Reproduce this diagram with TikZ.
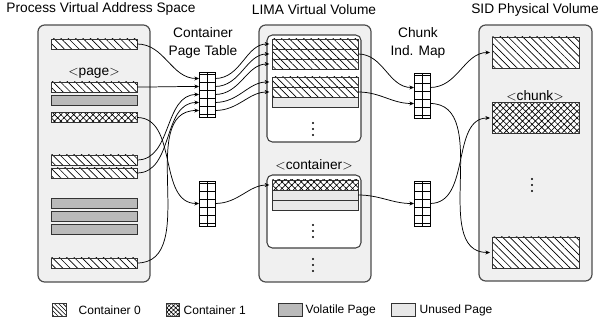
\documentclass[tikz,border=0pt]{standalone}
\usepackage{fontspec}
\setmainfont{Liberation Sans}
\usetikzlibrary{arrows.meta, patterns.meta, calc}

\tikzset{
  panel/.style={draw=black!70, fill=black!6, line width=0.9pt, rounded corners=5pt},
  box/.style={draw=black!75, fill=white, line width=0.8pt, rounded corners=4pt},
  bar/.style={draw=black!80, line width=0.6pt, minimum width=64.5pt, minimum height=7.5pt, inner sep=0pt, outer sep=0pt},
  cz/.style={bar, preaction={fill=white}, pattern={Lines[angle=-45,distance=3.9pt,line width=0.5pt]}},
  co/.style={bar, preaction={fill=white}, pattern={Hatch[angle=45,distance=3.4pt,line width=0.5pt]}},
  vol/.style={bar, fill=black!27},
  unused/.style={bar, fill=black!9},
  chunk/.style={minimum width=65.25pt, minimum height=23.25pt},
  key/.style={minimum width=10pt, minimum height=9.75pt},
  czkey/.style={bar, key, preaction={fill=white}, pattern={Lines[angle=-45,distance=2.3pt,line width=0.45pt]}},
  cokey/.style={bar, key, preaction={fill=white}, pattern={Hatch[angle=45,distance=2.3pt,line width=0.45pt]}},
  ptrow/.style={draw, line width=0.6pt, minimum width=12pt, minimum height=6pt, inner sep=0pt, outer sep=0pt,
    path picture={\draw[line width=0.6pt] (path picture bounding box.north) -- (path picture bounding box.south);}},
  ptcap/.style={ptrow, minimum height=1.875pt},
  map/.style={-{Stealth[length=3.5pt,width=3pt]}, line width=0.55pt},
}

\begin{document}
\begin{tikzpicture}[x=0.75pt, y=-0.75pt, font=\fontsize{10.3}{14}\selectfont]
    \useasboundingbox (0,0) rectangle (598,323);

    % TITLES
    \node (tproc) at (101,9) {Process Virtual Address Space};
    \node (tlima) at (314,10) {LIMA Virtual Volume};
    \node[anchor=west, inner sep=0pt] (tsid) at (471,10) {SID Physical Volume};
    \node[align=center] (tpt) at (203,43) {Container\\Page Table};
    \node[align=center] (tcm) at (418,43) {Chunk\\Ind. Map};

    % PANELS
    \draw[panel] (38,25) rectangle (150,282);
    \draw[panel] (259,25) rectangle (371,282);
    \draw[panel] (479,25) rectangle (592,281);
    \draw[box] (267,35) rectangle (361,142);
    \draw[box] (267,175) rectangle (361,248);

    % PAGES
    \node[cz] (p1) at (94,44) {};
    \node (lpage) at (94,73) {$<$page$>$};
    \node[cz] (p2) at (94,87) {};
    \node[vol] (p3) at (94,100) {};
    \node[co] (p4) at (94,117.5) {};
    \node[cz] (p5) at (94,160) {};
    \node[cz] (p6) at (94,173) {};
    \node[vol] (p7) at (94,203) {};
    \node[vol] (p8) at (94,216) {};
    \node[vol] (p9) at (94,229) {};
    \node[cz] (p10) at (94,263) {};

    % CONTAINERS
    \foreach \i/\y in {1/44, 2/54, 3/64, 4/82, 5/92}
        \node[cz] (l\i) at (315,\y) {};
    \node[unused] (l6) at (315,102) {};
    \node (lcont) at (314,165) {$<$container$>$};
    \node[co] (m1) at (315,185) {};
    \node[unused] (m2) at (315,195) {};
    \node[unused] (m3) at (315,205) {};

    % CHUNKS
    \node[cz, chunk] (s1) at (535.5,52.5) {};
    \node (lchunk) at (535,96) {$<$chunk$>$};
    \node[co, chunk] (s2) at (535.5,118) {};
    \node[cz, chunk] (s3) at (535.5,252.5) {};

    % ELLIPSES
    \foreach \x/\y in {313/123, 313/225, 313/259, 532/179}
        \foreach \d in {0,6,12}
            \fill (\x,\y+\d) circle (0.8pt);

    % TABLES
    \foreach \nm/\x/\y in {pta/207/0, ptb/207/109, cma/422/1, cmb/422/109} {
        \node[ptcap] (\nm0) at (\x,73.25+\y) {};
        \foreach \i in {1,...,5}
            \node[ptrow] (\nm\i) at (\x,{70.5+8*\i+\y}) {};
        \node[ptcap] (\nm6) at (\x,115.75+\y) {};
    }

    % PAGE -> TABLE
    \draw[map] (p1.east) to[out=0,in=180] (pta1.west);
    \draw[map] (p2.east) to[out=0,in=180] (pta2.west);
    \draw[map] (p5.east) to[out=0,in=180] (pta3.west);
    \draw[map] (p6.east) to[out=0,in=180] (pta4.west);
    \draw[map] (p10.east) to[out=0,in=180] (pta5.west);
    \draw[map] (p4.east) to[out=0,in=180] (ptb3.west);

    % TABLE -> CONTAINER
    \foreach \i in {1,...,5}
        \draw[map, shorten >=2pt] (pta\i.east) to[out=0,in=180] (l\i.west);
    \draw[map, shorten >=2pt] (ptb3.east) to[out=0,in=180] (m1.west);

    % CONTAINER -> CHUNK MAP
    \draw[map] (l2.east) to[out=0,in=180] (cma2.west);
    \draw[map] (l5.east) to[out=0,in=180] (cma4.west);
    \draw[map] (m2.east) to[out=0,in=180] (cmb3.west);

    % CHUNK MAP -> SID
    \draw[map, shorten >=1.5pt] (cma2.east) to[out=0,in=180] (s1.west);
    \draw[map, shorten >=1.5pt] (cma4.east) to[out=0,in=180] (s3.west);
    \draw[map, shorten >=1.5pt] (cmb3.east) to[out=0,in=180] (s2.west);

    % LEGEND
    \begin{scope}[font=\fontsize{9}{11}\selectfont]
        \node[czkey] (k0) at (59.5,310) {};
        \node[anchor=west] (t0) at (74,310) {Container 0};
        \node[cokey] (k1) at (173,310) {};
        \node[anchor=west] (t1) at (179,310) {Container 1};
        \node[vol, key, minimum width=18pt] (k2) at (290,310) {};
        \node[anchor=west] (t2) at (301,310) {Volatile Page};
        \node[unused, key, minimum width=18pt] (k3) at (403.5,310) {};
        \node[anchor=west] (t3) at (415,310) {Unused Page};
    \end{scope}

\end{tikzpicture}
\end{document}
